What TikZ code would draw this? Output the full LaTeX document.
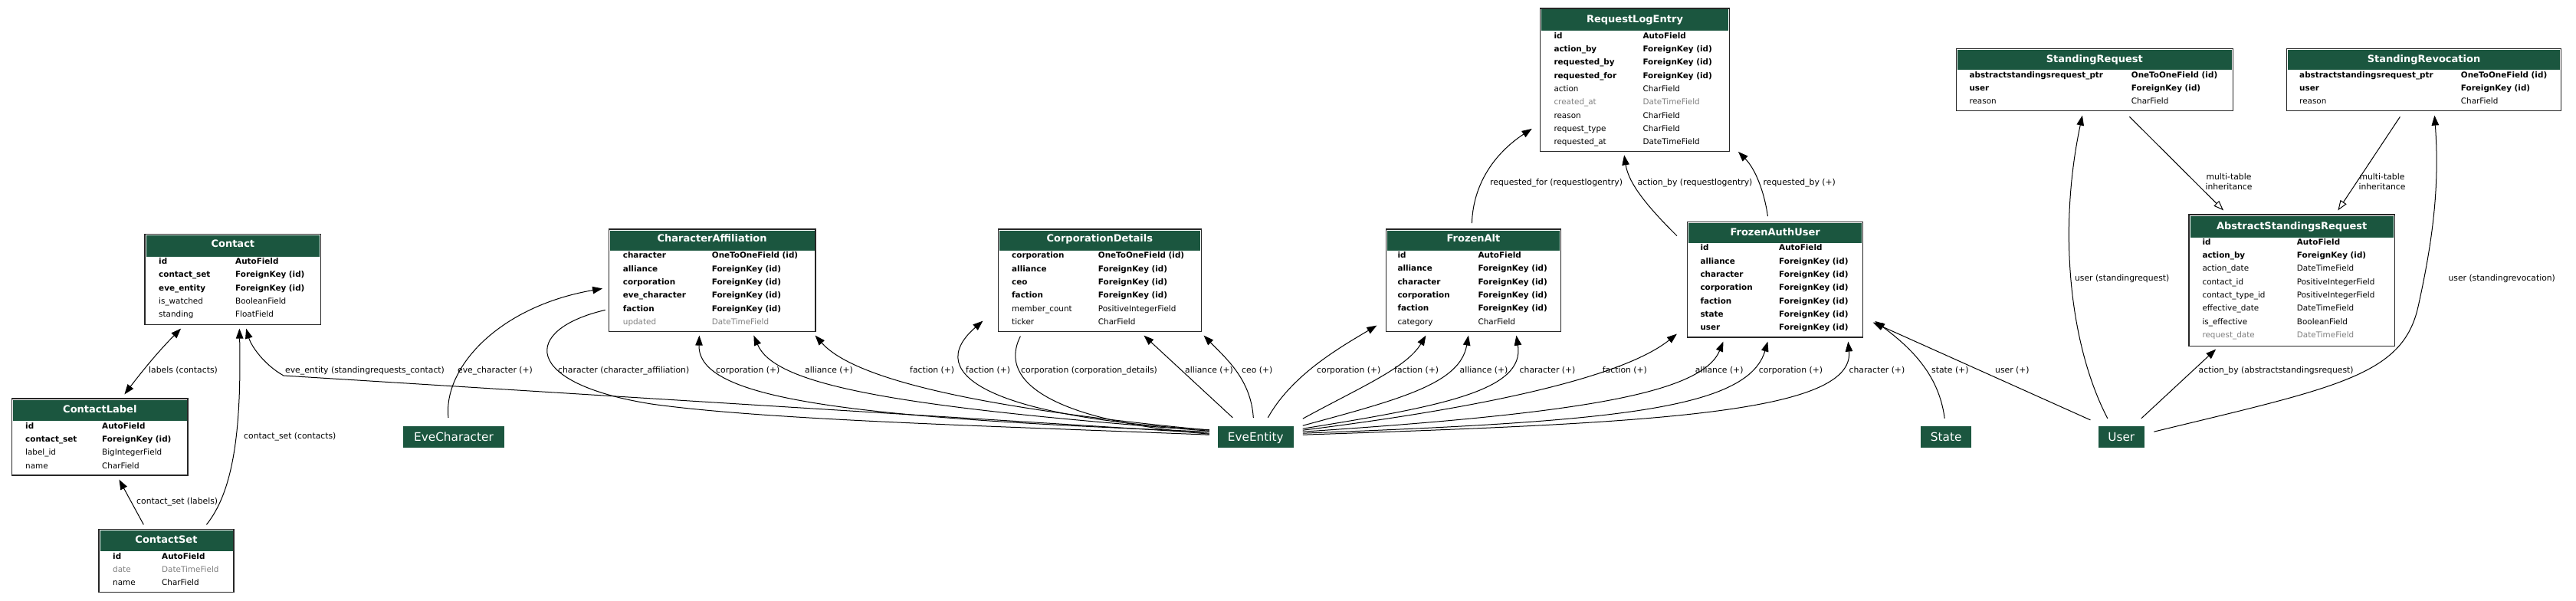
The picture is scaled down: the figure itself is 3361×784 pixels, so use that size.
\documentclass[tikz,border=0pt]{standalone}
\usepackage{fontspec}
\setmainfont{DejaVu Sans}
\usetikzlibrary{arrows.meta,fit,calc}
\definecolor{hdrgreen}{HTML}{1B563F}
\definecolor{grayt}{HTML}{7F7F7F}
\newcommand\ffield{\fontsize{10.4}{12}\selectfont}
\newcommand\ftitle{\fontsize{13}{15}\selectfont\bfseries}
\newcommand\fnode{\fontsize{15.3}{18}\selectfont}
\newcommand\flab{\fontsize{10.8}{12.3}\selectfont}
\newcommand\zb{\bfseries}
\newcommand\zn{}
\newcommand\zg{\color{grayt}}
% name, left, top, right, bottom, header bottom, title, title y
\newcommand{\mtable}[8]{%
  \fill[hdrgreen] (#2+1.5,#3+1.5) rectangle (#4-1.5,#6);
  \node[tframe, fit={(#2,#3) (#4,#5)}] (#1) {};
  \node[ttl] (#1-title) at ({(#2+#4)/2},#8) {#7};
}
% name, name x, type x, first row y, rows
\newcommand{\mrows}[5]{%
  \foreach \s/\a/\b [count=\i] in {#5} {
    \node[fld] (#1-n\i) at (#2,{#4+(\i-1)*17.3}) {\s\a};
    \node[fld] (#1-t\i) at (#3,{#4+(\i-1)*17.3}) {\s\b};
  }%
}
\begin{document}
\begin{tikzpicture}[x=1pt,y=-1pt,
  tframe/.style={draw=black!85, line width=1.2pt, inner sep=0pt},
  ttl/.style={text=white, font=\ftitle, inner sep=0pt, text height=9.5pt, text depth=0pt},
  fld/.style={anchor=west, inner sep=0pt, font=\ffield, text height=7pt, text depth=0pt},
  elab/.style={anchor=west, inner sep=0pt, font=\flab, text height=7.2pt, text depth=0pt},
  elabc/.style={inner sep=0pt, font=\flab, align=center},
  plain/.style={fill=hdrgreen, text=white, font=\fnode, minimum height=28.3pt, inner sep=0pt, text height=11pt, text depth=0pt},
  fk/.style={line width=1pt, -{Triangle[length=13pt,width=9.5pt]}},
  o2o/.style={line width=1pt},
  inh/.style={line width=1pt, -{Triangle[open,length=13pt,width=9.5pt]}},
  m2m/.style={line width=1pt, {Triangle[length=13pt,width=9.5pt]}-{Triangle[length=13pt,width=9.5pt]}}
]
\useasboundingbox (0,0) rectangle (3361,784);

% ---------- tables ----------
\mtable{Contact}{189}{305.7}{418.7}{423.3}{335}{Contact}{318}
\mrows{Contact}{207}{307}{341}{\zb/id/AutoField, \zb/contact\_set/ForeignKey (id), \zb/eve\_entity/ForeignKey (id), \zn/is\_watched/BooleanField, \zn/standing/FloatField}

\mtable{ContactLabel}{15.7}{520}{245}{620}{549}{ContactLabel}{533.5}
\mrows{ContactLabel}{33}{133}{555.7}{\zb/id/AutoField, \zb/contact\_set/ForeignKey (id), \zn/label\_id/BigIntegerField, \zn/name/CharField}

\mtable{ContactSet}{129}{690.7}{305}{772.7}{719}{ContactSet}{703.5}
\mrows{ContactSet}{147}{211}{725.7}{\zb/id/AutoField, \zg/date/DateTimeField, \zn/name/CharField}

\mtable{CA}{794.3}{299}{1064}{432.7}{326.7}{CharacterAffiliation}{311}
\mrows{CA}{812.7}{928.7}{333.3}{\zb/character/OneToOneField (id), \zb/alliance/ForeignKey (id), \zb/corporation/ForeignKey (id), \zb/eve\_character/ForeignKey (id), \zb/faction/ForeignKey (id), \zg/updated/DateTimeField}

\mtable{CD}{1302.3}{299}{1567.3}{432.7}{326.5}{CorporationDetails}{311}
\mrows{CD}{1320}{1432.7}{333.3}{\zb/corporation/OneToOneField (id), \zb/alliance/ForeignKey (id), \zb/ceo/ForeignKey (id), \zb/faction/ForeignKey (id), \zn/member\_count/PositiveIntegerField, \zn/ticker/CharField}

\mtable{FA}{1808.3}{299}{2036.7}{432.7}{326.5}{FrozenAlt}{311}
\mrows{FA}{1823.3}{1928.3}{333}{\zb/id/AutoField, \zb/alliance/ForeignKey (id), \zb/character/ForeignKey (id), \zb/corporation/ForeignKey (id), \zb/faction/ForeignKey (id), \zn/category/CharField}

\mtable{RLE}{2009.3}{11}{2256.7}{197.3}{40}{RequestLogEntry}{24.5}
\mrows{RLE}{2027.3}{2143.3}{46.7}{\zb/id/AutoField, \zb/action\_by/ForeignKey (id), \zb/requested\_by/ForeignKey (id), \zb/requested\_for/ForeignKey (id), \zn/action/CharField, \zg/created\_at/DateTimeField, \zn/reason/CharField, \zn/request\_type/CharField, \zn/requested\_at/DateTimeField}

\mtable{FAU}{2201.7}{289.3}{2430.7}{440}{316.7}{FrozenAuthUser}{302.5}
\mrows{FAU}{2218.3}{2321}{323.3}{\zb/id/AutoField, \zb/alliance/ForeignKey (id), \zb/character/ForeignKey (id), \zb/corporation/ForeignKey (id), \zb/faction/ForeignKey (id), \zb/state/ForeignKey (id), \zb/user/ForeignKey (id)}

\mtable{SR}{2552.3}{63.3}{2913.3}{144.3}{91}{StandingRequest}{76.5}
\mrows{SR}{2569.3}{2780.7}{97.7}{\zb/abstractstandingsrequest\_ptr/OneToOneField (id), \zb/user/ForeignKey (id), \zn/reason/CharField}

\mtable{SRev}{2983.3}{63.3}{3341.7}{144.3}{91}{StandingRevocation}{76.5}
\mrows{SRev}{3000}{3210.7}{97.7}{\zb/abstractstandingsrequest\_ptr/OneToOneField (id), \zb/user/ForeignKey (id), \zn/reason/CharField}

\mtable{ASR}{2856}{280}{3124.3}{451.7}{310}{AbstractStandingsRequest}{294.5}
\mrows{ASR}{2873.3}{2996.7}{315.7}{\zb/id/AutoField, \zb/action\_by/ForeignKey (id), \zn/action\_date/DateTimeField, \zn/contact\_id/PositiveIntegerField, \zn/contact\_type\_id/PositiveIntegerField, \zn/effective\_date/DateTimeField, \zn/is\_effective/BooleanField, \zg/request\_date/DateTimeField}

% ---------- plain nodes ----------
\node[plain, minimum width=132.6pt] (EveCharacter) at (592,570.2) {EveCharacter};
\node[plain, minimum width=98.5pt] (EveEntity) at (1638.3,570.2) {EveEntity};
\node[plain, minimum width=66.4pt] (State) at (2539.2,570.2) {State};
\node[plain, minimum width=60.5pt] (User) at (2767.8,570.2) {User};

% ---------- connectors ----------
\draw[m2m] ([shift={(147.3,-5)}]ContactLabel.north west) .. controls (185,485) and (205,460) .. ([shift={(47.7,4.7)}]Contact.south west);
\draw[fk] ([shift={(59,-5.7)}]ContactSet.north west) -- ([shift={(140.3,5)}]ContactLabel.south west);
\draw[fk] ([shift={(141,-5.7)}]ContactSet.north west) .. controls (305,640) and (315,560) .. ([shift={(124,4.7)}]Contact.south west);
\draw[fk] ([shift={(-11,-5)}]EveEntity.west) -- (370,490) .. controls (345,476) and (328,452) .. ([shift={(132.7,4.7)}]Contact.south west);
\draw[fk] ([shift={(-7,-11)}]EveCharacter.north) .. controls (578,480) and (650,400) .. ([shift={(-7.6,78)}]CA.north west);
\draw[o2o] ([shift={(-4,106)}]CA.north west) .. controls (680,430) and (680,500) .. (850,527) .. controls (1000,548) and (1300,556) .. ([shift={(-11,-3)}]EveEntity.west);
\draw[fk] ([shift={(-11,-7)}]EveEntity.west) .. controls (1100,545) and (910,520) .. ([shift={(118.7,4.3)}]CA.south west);
\draw[fk] ([shift={(-11,-8)}]EveEntity.west) .. controls (1150,530) and (1010,500) .. ([shift={(189.7,4.3)}]CA.south west);
\draw[fk] ([shift={(-11,-9)}]EveEntity.west) .. controls (1250,530) and (1110,490) .. ([shift={(-1,4.3)}]CA.south east);
\draw[fk] ([shift={(-11,-9.5)}]EveEntity.west) .. controls (1300,545) and (1200,490) .. ([shift={(-19.3,-14.7)}]CD.south west);
\draw[o2o] ([shift={(29.7,5.3)}]CD.south west) .. controls (1300,500) and (1380,550) .. ([shift={(-11,-4)}]EveEntity.west);
\draw[fk] ([shift={(-30,-11)}]EveEntity.north) -- ([shift={(190.7,4.3)}]CD.south west);
\draw[fk] ([shift={(-3,-11)}]EveEntity.north) .. controls (1632,495) and (1600,468) .. ([shift={(2.7,4.3)}]CD.south east);
\draw[fk] ([shift={(16,-11)}]EveEntity.north) .. controls (1685,490) and (1745,455) .. ([shift={(-11.3,-8.7)}]FA.south west);
\draw[fk] ([shift={(12,-24)}]EveEntity.east) .. controls (1775,505) and (1835,480) .. ([shift={(52.7,4.3)}]FA.south west);
\draw[fk] ([shift={(12,-15)}]EveEntity.east) .. controls (1830,520) and (1905,500) .. ([shift={(108.2,4.3)}]FA.south west);
\draw[fk] ([shift={(12,-11)}]EveEntity.east) .. controls (1880,530) and (1990,510) .. ([shift={(170.7,4.3)}]FA.south west);
\draw[fk] ([shift={(12,-9)}]EveEntity.east) .. controls (1950,530) and (2120,490) .. ([shift={(-13.2,-5)}]FAU.south west);
\draw[fk] ([shift={(12,-7)}]EveEntity.east) .. controls (2050,540) and (2220,515) .. ([shift={(47.3,5)}]FAU.south west);
\draw[fk] ([shift={(12,-5)}]EveEntity.east) .. controls (2100,550) and (2280,535) .. ([shift={(105.3,5)}]FAU.south west);
\draw[fk] ([shift={(12,-3)}]EveEntity.east) .. controls (2150,552) and (2420,540) .. ([shift={(-20,5)}]FAU.south east);
\draw[fk] ([shift={(-2,-10)}]State.north) .. controls (2530,490) and (2495,455) .. ([shift={(15,-21.7)}]FAU.south east);
\draw[fk] ([shift={(-10,-8)}]User.north west) -- ([shift={(12.3,-20)}]FAU.south east);
\draw[fk] ([shift={(-18,-10)}]User.north) .. controls (2700,450) and (2685,300) .. ([shift={(165.2,5.7)}]SR.south west);
\draw[fk] ([shift={(26,-10)}]User.north) -- ([shift={(35.7,3.3)}]ASR.south west);
\draw[fk] ([shift={(12,-7)}]User.east) .. controls (3050,505) and (3135,490) .. (3155,400) .. controls (3175,310) and (3183,240) .. ([shift={(193.7,5.7)}]SRev.south west);
\draw[inh] ([shift={(226.7,7.4)}]SR.south west) -- ([shift={(45.6,-5)}]ASR.north west);
\draw[inh] ([shift={(148.7,7.4)}]SRev.south west) -- ([shift={(195,-5)}]ASR.north west);
\draw[fk] ([shift={(-13.2,19)}]FAU.north west) .. controls (2150,270) and (2125,240) .. ([shift={(110.4,4.4)}]RLE.south west);
\draw[fk] ([shift={(105.3,-6.6)}]FAU.north west) .. controls (2302,250) and (2290,220) .. ([shift={(10.6,0)}]RLE.south east);
\draw[fk] ([shift={(112.7,-7.3)}]FA.north west) .. controls (1922,240) and (1950,200) .. ([shift={(-10,-30)}]RLE.south west);

% ---------- connector labels ----------
\node[elab] (l1) at (194,483) {labels (contacts)};
\node[elab] (l2) at (178,654) {contact\_set (labels)};
\node[elab] (l3) at (318,569) {contact\_set (contacts)};
\node[elab] (l4) at (372,483) {eve\_entity (standingrequests\_contact)};
\node[elab] (l5) at (597,483) {eve\_character (+)};
\node[elab] (l6) at (728,483) {character (character\_affiliation)};
\node[elab] (l7) at (934,483) {corporation (+)};
\node[elab] (l8) at (1050,483) {alliance (+)};
\node[elab] (l9) at (1187,483) {faction (+)};
\node[elab] (l10) at (1260,483) {faction (+)};
\node[elab] (l11) at (1332,483) {corporation (corporation\_details)};
\node[elab] (l12) at (1546,483) {alliance (+)};
\node[elab] (l13) at (1620,483) {ceo (+)};
\node[elab] (l14) at (1718,483) {corporation (+)};
\node[elab] (l15) at (1819,483) {faction (+)};
\node[elab] (l16) at (1904.5,483) {alliance (+)};
\node[elab] (l17) at (1982.5,483) {character (+)};
\node[elab] (l18) at (2090.7,483) {faction (+)};
\node[elab] (l19) at (2211.7,483) {alliance (+)};
\node[elab] (l20) at (2294.7,483) {corporation (+)};
\node[elab] (l21) at (2412.4,483) {character (+)};
\node[elab] (l22) at (2520,483) {state (+)};
\node[elab] (l23) at (2603,483) {user (+)};
\node[elab] (l24) at (2706.8,363) {user (standingrequest)};
\node[elab] (l25) at (2868.5,483) {action\_by (abstractstandingsrequest)};
\node[elab] (l26) at (3194.3,363) {user (standingrevocation)};
\node[elabc] (l27) at (2908,237) {multi-table\\inheritance};
\node[elabc] (l28) at (3108,237) {multi-table\\inheritance};
\node[elab] (l29) at (2136.3,237.7) {action\_by (requestlogentry)};
\node[elab] (l30) at (2300.5,237.7) {requested\_by (+)};
\node[elab] (l31) at (1944,237.7) {requested\_for (requestlogentry)};
\end{tikzpicture}
\end{document}
